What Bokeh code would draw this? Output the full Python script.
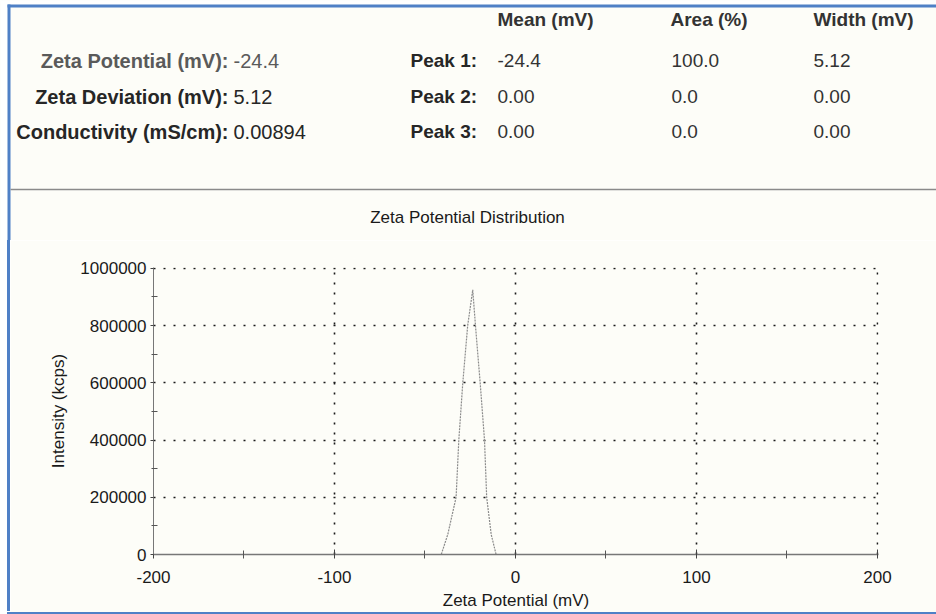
from bokeh.plotting import figure
from bokeh.layouts import column, row
from bokeh.models import ColumnDataSource, Range1d, FixedTicker, NumeralTickFormatter, Spacer
from bokeh.core.properties import value
from bokeh.embed import file_html
from bokeh.resources import INLINE

# ---------------- data ----------------
zeta_mv = [-200, -41.0, -37.4, -32.8, -31.3, -29.1, -26.4, -23.6, -22.1, -19.5, -17.1, -15.9, -13.4, -10.7, 200]
intensity = [0, 0, 70000, 200000, 400000, 600000, 800000, 925000, 800000, 600000, 400000, 200000, 70000, 0, 0]

x_ticks = [-200, -100, 0, 100, 200]
y_ticks = [0, 200000, 400000, 600000, 800000, 1000000]

summary_labels = ["Zeta Potential (mV):", "Zeta Deviation (mV):", "Conductivity (mS/cm):"]
summary_values = ["-24.4", "5.12", "0.00894"]
peak_names = ["Peak 1:", "Peak 2:", "Peak 3:"]
peak_columns = ["Mean (mV)", "Area (%)", "Width (mV)"]
peak_mean = ["-24.4", "0.00", "0.00"]
peak_area = ["100.0", "0.0", "0.0"]
peak_width = ["5.12", "0.00", "0.00"]

chart_title = "Zeta Potential Distribution"
x_title = "Zeta Potential (mV)"
y_title = "Intensity (kcps)"

# ---------------- layout constants (page pixels) ----------------
BG = "#fdfdf8"
BLUE = "#4f80c6"
FONT = "Liberation Sans"
W, H = 936, 614
HEAD_H = 240          # header strip (table + chart title)
BOT_H = 3             # bottom blue rule
MARGIN = 7            # white page margin left of the blue rule
RULE = 3              # blue rule thickness
MID_H = H - HEAD_H - BOT_H
FL, FT, FW, FH = 153, 267, 725, 287   # chart frame in page pixels

# ---------------- header: summary table and chart title ----------------
head = figure(width=W, height=HEAD_H, min_border=0,
              x_range=Range1d(0, W), y_range=Range1d(HEAD_H, 0),
              x_axis_type=None, y_axis_type=None,
              output_backend="svg", toolbar_location=None,
              background_fill_color=BG, border_fill_color=BG, outline_line_color=None)
head.grid.visible = False
head.quad(left=[0], right=[W], top=[0], bottom=[4], fill_color="white", line_color=None)
head.quad(left=[0], right=[MARGIN], top=[0], bottom=[HEAD_H], fill_color="white", line_color=None)
head.quad(left=[MARGIN], right=[W], top=[4], bottom=[7], fill_color=BLUE, line_color=None)
head.quad(left=[MARGIN], right=[MARGIN + RULE], top=[4], bottom=[HEAD_H], fill_color=BLUE, line_color=None)
head.quad(left=[MARGIN + RULE], right=[W], top=[188.2], bottom=[189.8], fill_color="#8a8a8a", line_color=None)

txt = dict(x=[], y=[], text=[], color=[], style=[], align=[], size=[])

def add(px, py, t, size="19px", bold=False, color="#222222", align="left"):
    txt["x"].append(px); txt["y"].append(py); txt["text"].append(t)
    txt["color"].append(color); txt["style"].append("bold" if bold else "normal")
    txt["align"].append(align); txt["size"].append(size)

row_y = [60, 96, 131]
label_colors = ["#5a5a5a", "#262626", "#262626"]
for i in range(3):
    add(228, row_y[i], summary_labels[i], size="20px", bold=True, color=label_colors[i], align="right")
    add(233, row_y[i], summary_values[i], size="20px", color=label_colors[i])
    add(410, row_y[i], peak_names[i], bold=True, color="#262626")
    add(497, row_y[i], peak_mean[i], color="#333333")
    add(671, row_y[i], peak_area[i], color="#333333")
    add(813, row_y[i], peak_width[i], color="#333333")

col_x = [497, 670, 813]
for cx, name in zip(col_x, peak_columns):
    add(cx, 19, name, bold=True, color="#333333")

add(467, 217, chart_title, size="17px", color="#1a1a1a", align="center")

head.text(x="x", y="y", text="text", source=ColumnDataSource(txt),
          text_font=value(FONT), text_font_size="size", text_font_style="style",
          text_color="color", text_align="align", text_baseline="middle")

# ---------------- chart ----------------
X0, X1 = x_ticks[0], x_ticks[-1] + 0.6
Y0, Y1 = y_ticks[0], y_ticks[-1] + 3000
CHART_X = MARGIN + RULE
left_b = FL - CHART_X
top_b = FT - HEAD_H
p = figure(frame_width=FW, frame_height=FH,
           min_border_left=left_b, min_border_right=W - CHART_X - left_b - FW,
           min_border_top=top_b, min_border_bottom=MID_H - top_b - FH,
           x_range=Range1d(X0, X1), y_range=Range1d(Y0, Y1),
           output_backend="svg", toolbar_location=None,
           background_fill_color=BG, border_fill_color=BG, outline_line_color=None)

p.line(zeta_mv, intensity, line_color="#8a8a8a", line_width=1.2, line_dash="2 1")

x_minor = [(a + b) / 2 for a, b in zip(x_ticks[:-1], x_ticks[1:])]
y_minor = [(a + b) / 2 for a, b in zip(y_ticks[:-1], y_ticks[1:])]
p.xaxis.ticker = FixedTicker(ticks=x_ticks, minor_ticks=x_minor)
p.yaxis.ticker = FixedTicker(ticks=y_ticks, minor_ticks=y_minor)
p.xaxis.formatter = NumeralTickFormatter(format="0")
p.yaxis.formatter = NumeralTickFormatter(format="0")

for ax in (p.xaxis[0], p.yaxis[0]):
    ax.axis_line_color = "#777777"
    ax.major_tick_line_color = "#444444"
    ax.minor_tick_line_color = "#555555"
    ax.major_label_text_font = FONT
    ax.major_label_text_font_size = "17px"
    ax.major_label_text_color = "#1a1a1a"
    ax.axis_label_text_font = FONT
    ax.axis_label_text_font_size = "17px"
    ax.axis_label_text_font_style = "normal"
    ax.axis_label_text_color = "#1a1a1a"

p.xaxis.axis_label = x_title
p.yaxis.axis_label = y_title
p.xaxis.axis_line_width = 1.6
p.xaxis.major_tick_in = 5
p.xaxis.major_tick_out = 4
p.xaxis.minor_tick_in = 4
p.xaxis.minor_tick_out = 4
p.xaxis.major_label_standoff = 12
p.xaxis.axis_label_standoff = 5
p.yaxis.major_tick_in = 0
p.yaxis.major_tick_out = 3
p.yaxis.minor_tick_in = 4
p.yaxis.minor_tick_out = 2
p.yaxis.major_label_standoff = 4
p.yaxis.axis_label_standoff = 9

p.xgrid.ticker = FixedTicker(ticks=x_ticks)
p.ygrid.ticker = FixedTicker(ticks=y_ticks)
for g in (p.xgrid[0], p.ygrid[0]):
    g.grid_line_color = "#1a1a1a"
    g.grid_line_width = 1.6
    g.grid_line_dash = "2 8"

# ---------------- blue page rules (plain layout blocks) ----------------
left_gap = Spacer(width=MARGIN, height=MID_H, styles={"background-color": "white"})
left_rule = Spacer(width=RULE, height=MID_H, styles={"background-color": BLUE})
bottom_gap = Spacer(width=MARGIN, height=BOT_H, styles={"background-color": "white"})
bottom_rule = Spacer(width=W - MARGIN, height=BOT_H, styles={"background-color": BLUE})

page = column(head, row(left_gap, left_rule, p), row(bottom_gap, bottom_rule))
open("out.html", "w").write(file_html(page, INLINE))
